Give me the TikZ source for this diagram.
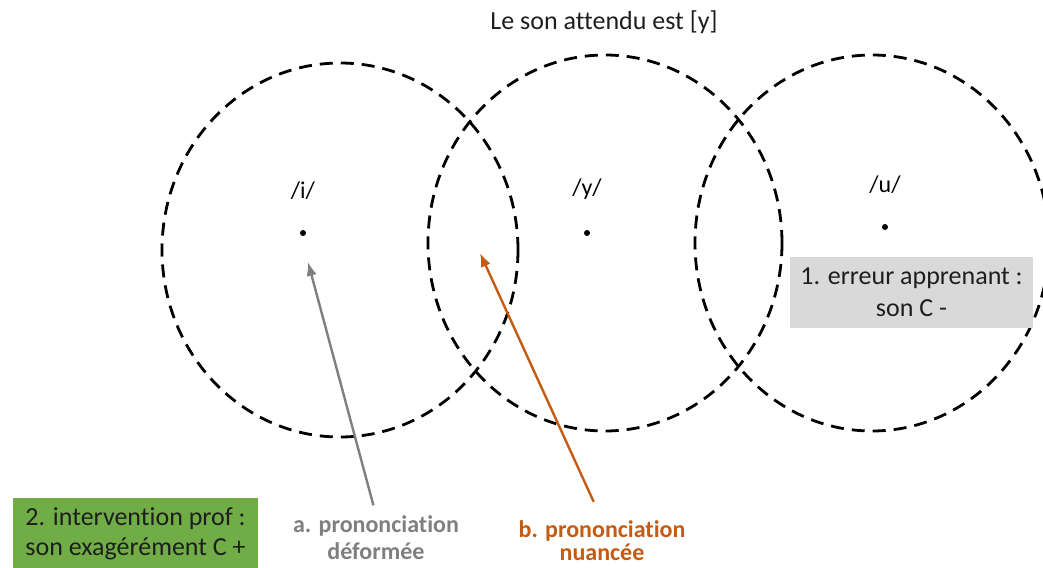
\documentclass[tikz,border=0pt]{standalone}
\usepackage{fontspec}
\setmainfont{Carlito}[Ligatures=NoCommon]
\usetikzlibrary{arrows.meta,positioning}
\definecolor{BoxGrey}{RGB}{217,217,217}
\definecolor{BoxGreen}{RGB}{112,173,71}
\definecolor{ArrowGrey}{RGB}{127,127,127}
\definecolor{DarkOrange}{RGB}{197,90,17}
\definecolor{TextDark}{RGB}{30,30,30}

\begin{document}
\begin{tikzpicture}[x=1pt, y=-1pt, >=Latex,
    ring/.style={dash pattern=on 13pt off 8pt, line width=2.8pt},
    dot/.style={circle, fill, inner sep=0pt, minimum size=6pt},
    vowel/.style={font=\fontsize{24}{26}\selectfont, inner sep=0pt},
    note/.style={align=center, font=\fontsize{26}{32}\selectfont, inner sep=0pt},
    pointer/.style={->, line width=2.4pt}]
    \useasboundingbox (0,0) rectangle (1043,567);

    % Title
    \node [note, text=TextDark] (title) at (604,22) {Le son attendu est [y]};

    % Circles
    \draw [ring] (340,250) ellipse [x radius=178pt, y radius=187pt];
    \draw [ring] (605,243) ellipse [x radius=177pt, y radius=188pt];
    \draw [ring] (872,243) ellipse [x radius=177pt, y radius=188pt];

    % Vowels
    \node [dot] (ptI) at (303,233) {};
    \node [dot] (ptY) at (587,233) {};
    \node [dot] (ptU) at (885,227) {};
    \node [vowel, above=30pt of ptI] (vI) {/i/};
    \node [vowel, above=30pt of ptY] (vY) {/y/};
    \node [vowel, above=30pt of ptU] (vU) {/u/};

    % Boxes
    \node [note, fill=BoxGrey, text=TextDark, minimum width=243pt, minimum height=71pt]
        (erreur) at (911.5,292.5) {1. erreur apprenant :\\son C -};
    \node [note, fill=BoxGreen, text=TextDark, font=\fontsize{26}{30}\selectfont,
        minimum width=245pt, minimum height=72pt, anchor=north]
        (prof) at (135.5,498) {2. intervention prof :\\son exagérément C +};

    % Labels and arrows
    \node [note, text=ArrowGrey, font=\fontsize{24}{27}\bfseries, anchor=base] (lblA) at (376,559) {a. prononciation\\déformée};
    \node [note, text=DarkOrange, font=\fontsize{24}{23}\bfseries, anchor=base] (lblB) at (602,560) {b. prononciation\\nuancée};
    \coordinate (tipA) at (308,262);
    \coordinate (tipB) at (480,253);
    \draw [pointer, ArrowGrey, shorten <=10pt] (lblA.north) -- (tipA);
    \draw [pointer, DarkOrange, shorten <=20pt] (lblB.north) -- (tipB);
\end{tikzpicture}
\end{document}
